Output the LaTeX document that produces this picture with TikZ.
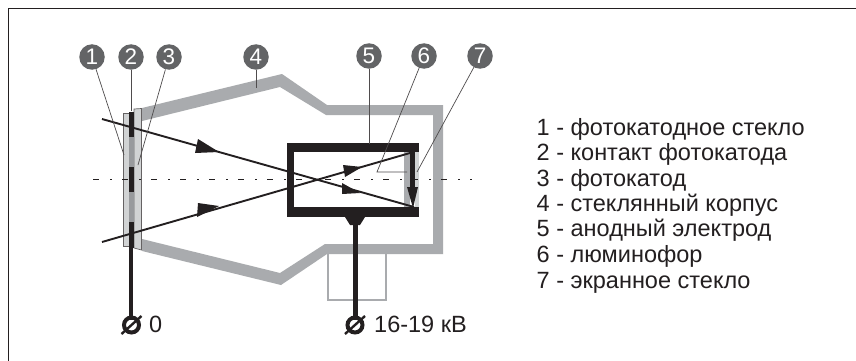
\documentclass[tikz,border=0pt]{standalone}
\usepackage{fontspec}
\setmainfont{Liberation Sans}
\definecolor{bodygray}{HTML}{A9ABAE}
\definecolor{glassgray}{HTML}{D1D3D4}
\definecolor{ink}{HTML}{231F20}
\definecolor{badge}{HTML}{636466}
\tikzset{
  badgenode/.style={circle,fill=badge,minimum size=25.5pt,inner sep=0pt,text=white,font=\fontsize{22.5}{22.5}\selectfont},
  leader/.style={draw=ink!80,line width=0.7pt},
  ray/.style={draw=ink,line width=1.9pt},
  arrowhead/.style={fill=ink,draw=none},
  lead/.style={fill=ink,draw=none},
  legend/.style={anchor=base west,inner sep=0pt,text=ink,font=\fontsize{23.5}{23.5}\selectfont},
  terminal/.style={circle,draw=ink,line width=4pt,minimum size=15pt,inner sep=0pt},
}
\begin{document}
\begin{tikzpicture}[x=1pt,y=-1pt]
\useasboundingbox (0,0) rectangle (856,361);
\fill[white] (0,0) rectangle (856,361);
% frame
\draw[ink,line width=1.2pt] (8.5,361) -- (8.5,8.5) -- (856,8.5);
% bulb
\fill[bodygray] (142,108) -- (282,74) -- (327,105) -- (443,105) -- (443,254) -- (327,254) -- (281,285) -- (142,251)
  -- (142,239) -- (280,273) -- (325,244) -- (433,244) -- (433,115) -- (326,115) -- (280,87) -- (142,121) -- cycle;
% base
\draw[bodygray,line width=2pt] (328,254) -- (328,300) -- (386,300) -- (386,254);
% photocathode glass
\fill[glassgray,draw=ink!70,line width=.7pt] (123,113) rectangle (129,246.5);
\fill[glassgray,draw=ink!70,line width=.7pt] (134,109) -- (141.5,108.5) -- (141.5,250) -- (134,248) -- cycle;
\fill[bodygray!90!black] (129,113) rectangle (134,246);
\fill[ink] (128.5,112) rectangle (134,137);
\fill[ink] (128.5,167) rectangle (134,192);
\fill[ink] (128.5,222) rectangle (134,248);
% screen layers
\fill[glassgray] (415,150) rectangle (418.5,210);
\fill[bodygray] (404,150) rectangle (409.5,210);
% anode
\fill[ink] (287,143) rectangle (418.5,152);
\fill[ink] (287,207) rectangle (418.5,217);
\fill[ink] (287,143) rectangle (294,217);
% axis
\draw[ink,line width=.9pt,dash pattern=on 6pt off 11pt on 2pt off 10pt] (93,179) -- (472,179);
% arrow on screen
\fill[ink] (409.5,152) rectangle (415,190);
\fill[arrowhead] (407,187) -- (418,187) -- (413,208) -- cycle;
% coordinates
\coordinate (r1s) at (102,119);
\coordinate (r1e) at (414,207);
\coordinate (r2s) at (102,242);
\coordinate (r2e) at (410,153);
% rays
\draw[ray] (r1s) -- (r1e);
\draw[ray] (r2s) -- (r2e);
\fill[arrowhead] (198,139) -- (219,152) -- (195,153) -- cycle;
\fill[arrowhead] (342,183) -- (360,193) -- (342,194) -- cycle;
\fill[arrowhead] (198,203) -- (219,206) -- (197,217) -- cycle;
\fill[arrowhead] (343,165) -- (362,167) -- (345,177) -- cycle;
% leads
\fill[lead] (129,248) rectangle (133,320);
\fill[lead] (345,217) -- (365,217) -- (360,225) -- (350,225) -- cycle;
\fill[lead] (353,225) rectangle (357.5,320);
% terminals
\node[terminal] (t0) at (131.5,325) {};
\draw[ink,line width=2.4pt] (t0.center) ++(-10,9) -- ++(20,-18);
\node[terminal] (t1) at (355,325) {};
\draw[ink,line width=2.4pt] (t1.center) ++(-10,9) -- ++(20,-18);
\node[legend] (l0) at (149,332.5) {0};
\node[legend] (l1) at (374,332.5) {16-19 кВ};
% badges
\node[badgenode] (b1) at (92,57) {1};
\node[badgenode] (b2) at (131,57) {2};
\node[badgenode] (b3) at (169,57) {3};
\node[badgenode] (b4) at (256,57) {4};
\node[badgenode] (b5) at (369,56) {5};
\node[badgenode] (b6) at (424,56) {6};
\node[badgenode] (b7) at (480,56) {7};
% leaders
\coordinate (e1) at (124,155);
\coordinate (e2) at (131,111);
\coordinate (e3) at (138,165);
\coordinate (e4) at (256,88);
\coordinate (e5) at (369,144);
\coordinate (e6a) at (377,172);
\coordinate (e6b) at (407,172);
\coordinate (e7) at (417,172);
\draw[leader] (b1) -- (e1);
\draw[leader] (b2) -- (e2);
\draw[leader] (b3) -- (e3);
\draw[leader] (b4) -- (e4);
\draw[leader] (b5) -- (e5);
\draw[leader] (b6) -- (e6a) -- (e6b);
\draw[leader] (b7) -- (e7);
% legend
\node[legend] (k1) at (536.5,135) {1 - фотокатодное стекло};
\node[legend] (k2) at (536.5,160.3) {2 - контакт фотокатода};
\node[legend] (k3) at (536.5,186) {3 - фотокатод};
\node[legend] (k4) at (536.5,211) {4 - стеклянный корпус};
\node[legend] (k5) at (536.5,236.5) {5 - анодный электрод};
\node[legend] (k6) at (536.5,262) {6 - люминофор};
\node[legend] (k7) at (536.5,288) {7 - экранное стекло};
\end{tikzpicture}
\end{document}
